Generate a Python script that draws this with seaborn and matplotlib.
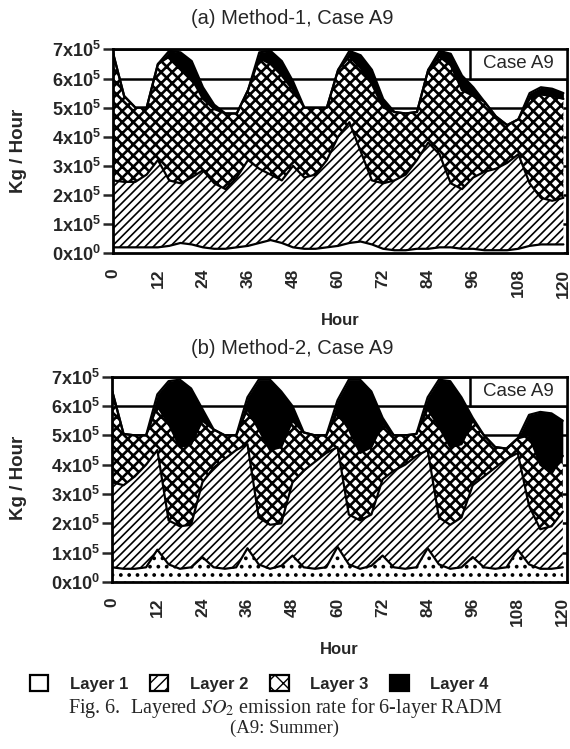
import numpy as np
import matplotlib
matplotlib.use("Agg")
import matplotlib.pyplot as plt
from matplotlib.patches import Patch, Rectangle
import seaborn as sns

# hours on the x axis (every 3 h)
hours = list(range(0, 121, 3))
hour_ticks = [0, 12, 24, 36, 48, 60, 72, 84, 96, 108, 120]

# values in units of 1e5 kg/hour, top edge of each stacked layer
# (a) Method-1
a_layer1_top = [0.2, 0.2, 0.2, 0.2, 0.2, 0.25, 0.35, 0.3, 0.2, 0.15, 0.15, 0.2, 0.25, 0.35,
                0.45, 0.35, 0.2, 0.15, 0.15, 0.2, 0.25, 0.35, 0.4, 0.3, 0.15, 0.1, 0.1, 0.15,
                0.15, 0.2, 0.2, 0.15, 0.15, 0.1, 0.1, 0.1, 0.15, 0.25, 0.3, 0.3, 0.3]
a_layer2_top = [2.5, 2.45, 2.45, 2.7, 3.2, 2.5, 2.4, 2.6, 2.85, 2.4, 2.2, 2.6, 3.2, 2.9,
                2.7, 2.5, 3.0, 2.6, 2.7, 3.2, 4.0, 4.5, 3.5, 2.5, 2.4, 2.5, 2.7, 3.2,
                3.8, 3.4, 2.4, 2.2, 2.6, 2.8, 2.9, 3.1, 3.4, 2.4, 1.9, 1.8, 1.9]
a_layer3_top = [6.9, 5.4, 5.0, 5.0, 6.5, 6.75, 6.4, 6.0, 5.3, 4.95, 4.8, 4.8, 5.6, 6.7,
                6.5, 6.1, 5.6, 5.0, 5.0, 5.0, 6.3, 6.75, 6.35, 5.8, 5.0, 4.85, 4.8, 4.85,
                6.3, 6.75, 6.45, 5.6, 5.4, 5.2, 4.7, 4.4, 4.6, 5.3, 5.45, 5.4, 5.3]
a_total = [6.9, 5.4, 5.0, 5.0, 6.5, 6.95, 6.9, 6.6, 5.7, 5.1, 4.8, 4.8, 5.6, 6.9,
           6.95, 6.6, 5.9, 5.0, 5.0, 5.0, 6.3, 6.95, 6.8, 6.3, 5.3, 4.85, 4.8, 4.85,
           6.3, 6.95, 6.85, 6.1, 5.7, 5.2, 4.7, 4.4, 4.6, 5.5, 5.7, 5.65, 5.5]

# (b) Method-2
b_layer1_top = [0.5, 0.45, 0.45, 0.5, 1.1, 0.6, 0.45, 0.5, 0.85, 0.5, 0.45, 0.5, 1.15, 0.6,
                0.45, 0.55, 0.9, 0.5, 0.45, 0.5, 1.2, 0.6, 0.45, 0.55, 0.9, 0.5, 0.45, 0.5,
                1.15, 0.6, 0.45, 0.5, 0.85, 0.5, 0.45, 0.5, 1.1, 0.6, 0.45, 0.45, 0.5]
b_layer2_top = [3.4, 3.3, 3.6, 4.0, 4.5, 2.1, 1.9, 1.95, 3.4, 3.9, 4.2, 4.5, 4.7, 2.2,
                1.95, 2.0, 3.4, 3.8, 4.1, 4.4, 4.6, 2.3, 2.1, 2.3, 3.5, 3.8, 4.0, 4.3,
                4.5, 2.2, 1.95, 2.2, 3.3, 3.6, 3.9, 4.2, 4.4, 2.6, 1.8, 1.9, 2.4]
b_layer3_top = [6.5, 5.05, 5.0, 5.0, 6.0, 5.4, 4.6, 4.7, 5.5, 5.2, 5.0, 5.0, 5.9, 5.2,
                4.5, 4.6, 5.5, 5.1, 5.0, 5.0, 5.8, 5.2, 4.4, 4.6, 5.4, 5.0, 5.0, 5.05,
                5.9, 5.3, 4.6, 4.7, 5.5, 5.0, 4.6, 4.55, 4.9, 5.0, 4.0, 3.7, 4.3]
b_total = [6.5, 5.05, 5.0, 5.0, 6.4, 6.85, 6.9, 6.6, 5.9, 5.2, 5.0, 5.0, 6.3, 6.9,
           6.9, 6.5, 6.0, 5.1, 5.0, 5.0, 6.2, 6.9, 6.9, 6.5, 5.6, 5.0, 5.0, 5.05,
           6.3, 6.9, 6.85, 6.3, 5.6, 5.0, 4.6, 4.55, 4.9, 5.7, 5.8, 5.75, 5.5]

layer_names = ["Layer 1", "Layer 2", "Layer 3", "Layer 4"]

sns.set_theme(style="ticks")
plt.rcParams["font.family"] = ["Liberation Sans", "DejaVu Sans"]
plt.rcParams["mathtext.fontset"] = "stix"

# fill style of each layer: face, hatch colour, hatch, hatch width
styles = [
    dict(face="white", hc="black", hatch=None, hlw=1.0),
    dict(face="white", hc="black", hatch="////", hlw=1.2),
    dict(face="white", hc="black", hatch="xxx", hlw=1.9),
    dict(face="black", hc="white", hatch=None, hlw=0.8),
]


def draw_panel(ax, tops, bottom_dots=False):
    x = np.array(hours)
    base = np.zeros(len(x))
    for i, top in enumerate(tops):
        top = np.array(top) * 1e5
        st = dict(styles[i])
        if i == 0 and bottom_dots:
            st.update(hatch="..", hlw=1.5)
        with plt.rc_context({"hatch.linewidth": st["hlw"]}):
            ax.fill_between(x, base, top, facecolor=st["face"], edgecolor=st["hc"],
                            hatch=st["hatch"], linewidth=0, zorder=2)
        sns.lineplot(x=x, y=top, color="black", linewidth=1.6, ax=ax, zorder=3)
        base = top

    ax.set_xlim(0, 121)
    ax.set_ylim(0, 7e5)
    ax.set_xticks(hour_ticks)
    ax.set_xticklabels([str(h) for h in hour_ticks], rotation=90, fontweight="bold",
                       fontsize=12.5)
    yt = [v * 1e5 for v in range(8)]
    ax.set_yticks(yt)
    ax.set_yticklabels([r"$\mathregular{%dx10^{%d}}$" % (v, 5 if v else 0) for v in range(8)],
                       fontweight="bold", fontsize=13)
    ax.tick_params(axis="x", length=0, pad=11)
    ax.tick_params(axis="y", length=7, width=1.8, pad=2)
    ax.yaxis.grid(True, color="black", linewidth=1.8)
    ax.set_axisbelow(True)
    for sp in ax.spines.values():
        sp.set_linewidth(2)
        sp.set_color("black")
        sp.set_zorder(5)
    ax.set_xlabel("Hour", fontweight="bold", fontsize=12, labelpad=11)
    ax.set_ylabel("")

    # case label box in the top right corner
    ax.add_patch(Rectangle((0.787, 6 / 7), 0.213, 1 / 7, transform=ax.transAxes,
                           facecolor="white", edgecolor="black", linewidth=1.8, zorder=6))
    ax.text(0.893, 13 / 14, "Case A9", transform=ax.transAxes, ha="center", va="center",
            fontsize=13.5, zorder=7)


fig = plt.figure(figsize=(5.7, 7.49), dpi=100)
ax_a = fig.add_axes([0.198, 0.662, 0.797, 0.272])
ax_b = fig.add_axes([0.197, 0.223, 0.797, 0.274])

draw_panel(ax_a, [a_layer1_top, a_layer2_top, a_layer3_top, a_total])
draw_panel(ax_b, [b_layer1_top, b_layer2_top, b_layer3_top, b_total], bottom_dots=True)

fig.text(0.512, 1 - 19 / 749, "(a) Method-1, Case A9", ha="center", va="center", fontsize=14.5)
fig.text(0.512, 1 - 348 / 749, "(b) Method-2, Case A9", ha="center", va="center", fontsize=14.5)
fig.text(0.033, 0.798, "Kg / Hour", rotation=90, ha="center", va="center",
         fontweight="bold", fontsize=13.5)
fig.text(0.033, 0.362, "Kg / Hour", rotation=90, ha="center", va="center",
         fontweight="bold", fontsize=13.5)

handles = []
for i, name in enumerate(layer_names):
    st = styles[i]
    with plt.rc_context({"hatch.linewidth": 1.2}):
        handles.append(Patch(facecolor=st["face"], edgecolor="black",
                             hatch="///" if i == 1 else ("xx" if i == 2 else None),
                             linewidth=1.6, label=name))
fig.legend(handles=handles, loc="center", bbox_to_anchor=(0.455, 0.0875), ncol=4,
           frameon=False, handlelength=1.1, handleheight=1.1, handletextpad=1.3,
           columnspacing=1.3, borderpad=0.2, prop=dict(weight="bold", size=12))

fig.text(0.5, 1 - 708 / 749, r"Fig. 6.  Layered $SO_2$ emission rate for 6-layer RADM",
         ha="center", va="center", fontsize=14.5, family="Liberation Serif")
fig.text(0.5, 1 - 728 / 749, "(A9: Summer)", ha="center", va="center", fontsize=13.5,
         family="Liberation Serif")

fig.savefig("out.png", dpi=100)
